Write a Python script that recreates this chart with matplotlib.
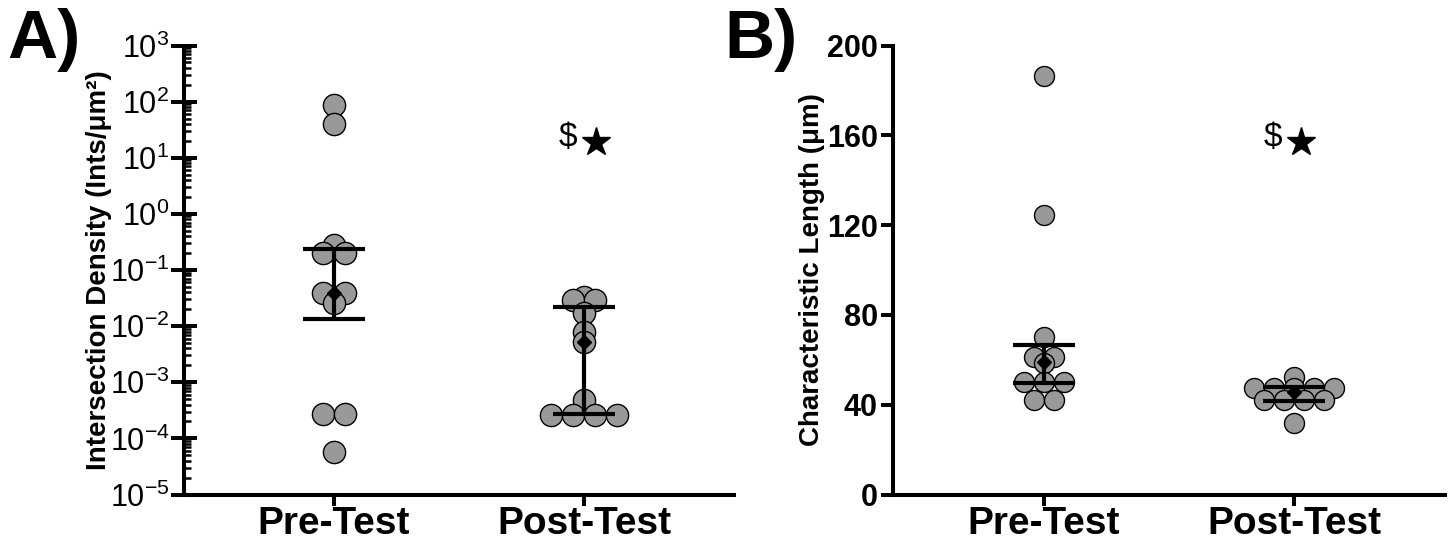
import matplotlib.pyplot as plt
import numpy as np
from matplotlib.ticker import FixedLocator, FuncFormatter, NullFormatter

plt.rcParams["font.family"] = ["Liberation Sans", "DejaVu Sans"]
plt.rcParams["mathtext.default"] = "regular"

groups = ["Pre-Test", "Post-Test"]

# A) intersection density (Ints/um^2), one value per specimen
density_pre = [87, 39.4, 0.279, 0.198, 0.198, 0.0385, 0.0385, 0.0255, 2.7e-4, 2.7e-4, 5.8e-5]
density_post = [0.0334, 0.0292, 0.0292, 0.0171, 0.00796, 0.00528, 4.83e-4,
                2.6e-4, 2.6e-4, 2.6e-4, 2.6e-4]
density_mid = [0.0385, 0.0053]
density_lo = [0.0132, 2.7e-4]
density_hi = [0.237, 0.0216]

# B) characteristic length (um)
length_pre = [186.6, 124.5, 70.2, 61.3, 61.3, 58.6, 50.1, 50.1, 50.1, 42.1, 42.1]
length_post = [52.3, 47.4, 47.4, 47.4, 47.4, 47.4, 42.1, 42.1, 42.1, 42.1, 31.8]
length_mid = [59.2, 45.8]
length_lo = [49.5, 41.8]
length_hi = [66.6, 47.8]

GREY = "#999999"


def row_offsets(values, step):
    # points sharing a value sit side by side in one centred row (Prism style)
    vals = np.asarray(values, dtype=float)
    off = np.zeros(len(vals))
    for v in np.unique(vals):
        idx = np.flatnonzero(vals == v)
        off[idx] = (np.arange(len(idx)) - (len(idx) - 1) / 2) * step
    return off


def draw_panel(ax, pre, post, mid, lo, hi, ms):
    px_per_unit = ax.get_window_extent().width / np.ptp(ax.get_xlim())
    step = ms * fig.dpi / 72 / px_per_unit
    for i, vals in enumerate([pre, post]):
        ax.plot(i + row_offsets(vals, step), vals, "o", ms=ms, mfc=GREY,
                mec="black", mew=1.0, zorder=2, clip_on=False)
    x = np.arange(len(groups))
    mid, lo, hi = map(np.asarray, (mid, lo, hi))
    ax.errorbar(x, mid, yerr=[mid - lo, hi - mid], fmt="none", ecolor="black",
                elinewidth=3, capsize=22, capthick=3, zorder=3)
    ax.plot(x, mid, "D", ms=7, color="black", zorder=4)


def style(ax):
    ax.spines[["top", "right"]].set_visible(False)
    for s in ("left", "bottom"):
        ax.spines[s].set_linewidth(2.9)
    ax.set_xlim(-0.6, 1.6)
    ax.set_xticks(range(len(groups)), groups, fontsize=28, fontweight="bold")
    ax.tick_params(axis="x", length=8, width=2.9, pad=0.5)


fig = plt.figure(figsize=(14.48, 5.43), dpi=100)
axA = fig.add_axes([0.1271, 0.0893, 0.3798, 0.8269])
axB = fig.add_axes([0.6167, 0.0893, 0.3812, 0.8269])

# --- A) log axis
style(axA)
axA.set_yscale("log")
axA.set_ylim(1e-5, 1e3)
axA.yaxis.set_major_locator(FixedLocator(10.0 ** np.arange(-5, 4)))
axA.yaxis.set_major_formatter(FuncFormatter(lambda v, p: r"$10^{%d}$" % round(np.log10(v))))
axA.yaxis.set_minor_locator(FixedLocator(
    [m * 10.0 ** e for e in range(-5, 3) for m in range(2, 10)]))
axA.yaxis.set_minor_formatter(NullFormatter())
axA.tick_params(axis="y", which="major", direction="inout", length=19, width=2.9,
                labelsize=22, pad=1)
axA.tick_params(axis="y", which="minor", direction="in", length=5, width=1.8)
axA.set_ylabel("Intersection Density (Ints/μm²)", fontsize=20, fontweight="bold")
axA.yaxis.set_label_coords(-0.131, 0.5)
draw_panel(axA, density_pre, density_post, density_mid, density_lo, density_hi, ms=16)
axA.text(0.936, 23.4, r"\$", fontsize=24, ha="center", va="center")
axA.plot(1.048, 19.1, marker="*", ms=21, color="black", clip_on=False)

# --- B) linear axis
style(axB)
axB.set_ylim(0, 200)
axB.set_yticks(np.arange(0, 201, 40))
axB.tick_params(axis="y", length=9, width=2.9, labelsize=22, pad=2)
for lab in axB.get_yticklabels():
    lab.set_fontweight("bold")
axB.set_ylabel("Characteristic Length (μm)", fontsize=20, fontweight="bold")
axB.yaxis.set_label_coords(-0.123, 0.5)
draw_panel(axB, length_pre, length_post, length_mid, length_lo, length_hi, ms=14.4)
axB.text(0.916, 158.8, r"\$", fontsize=24, ha="center", va="center")
axB.plot(1.028, 157, marker="*", ms=21, color="black", clip_on=False)

fig.text(0.005, 0.926, "A)", fontsize=50, fontweight="bold", va="center")
fig.text(0.500, 0.926, "B)", fontsize=50, fontweight="bold", va="center")

fig.savefig("out.png", dpi=100)
